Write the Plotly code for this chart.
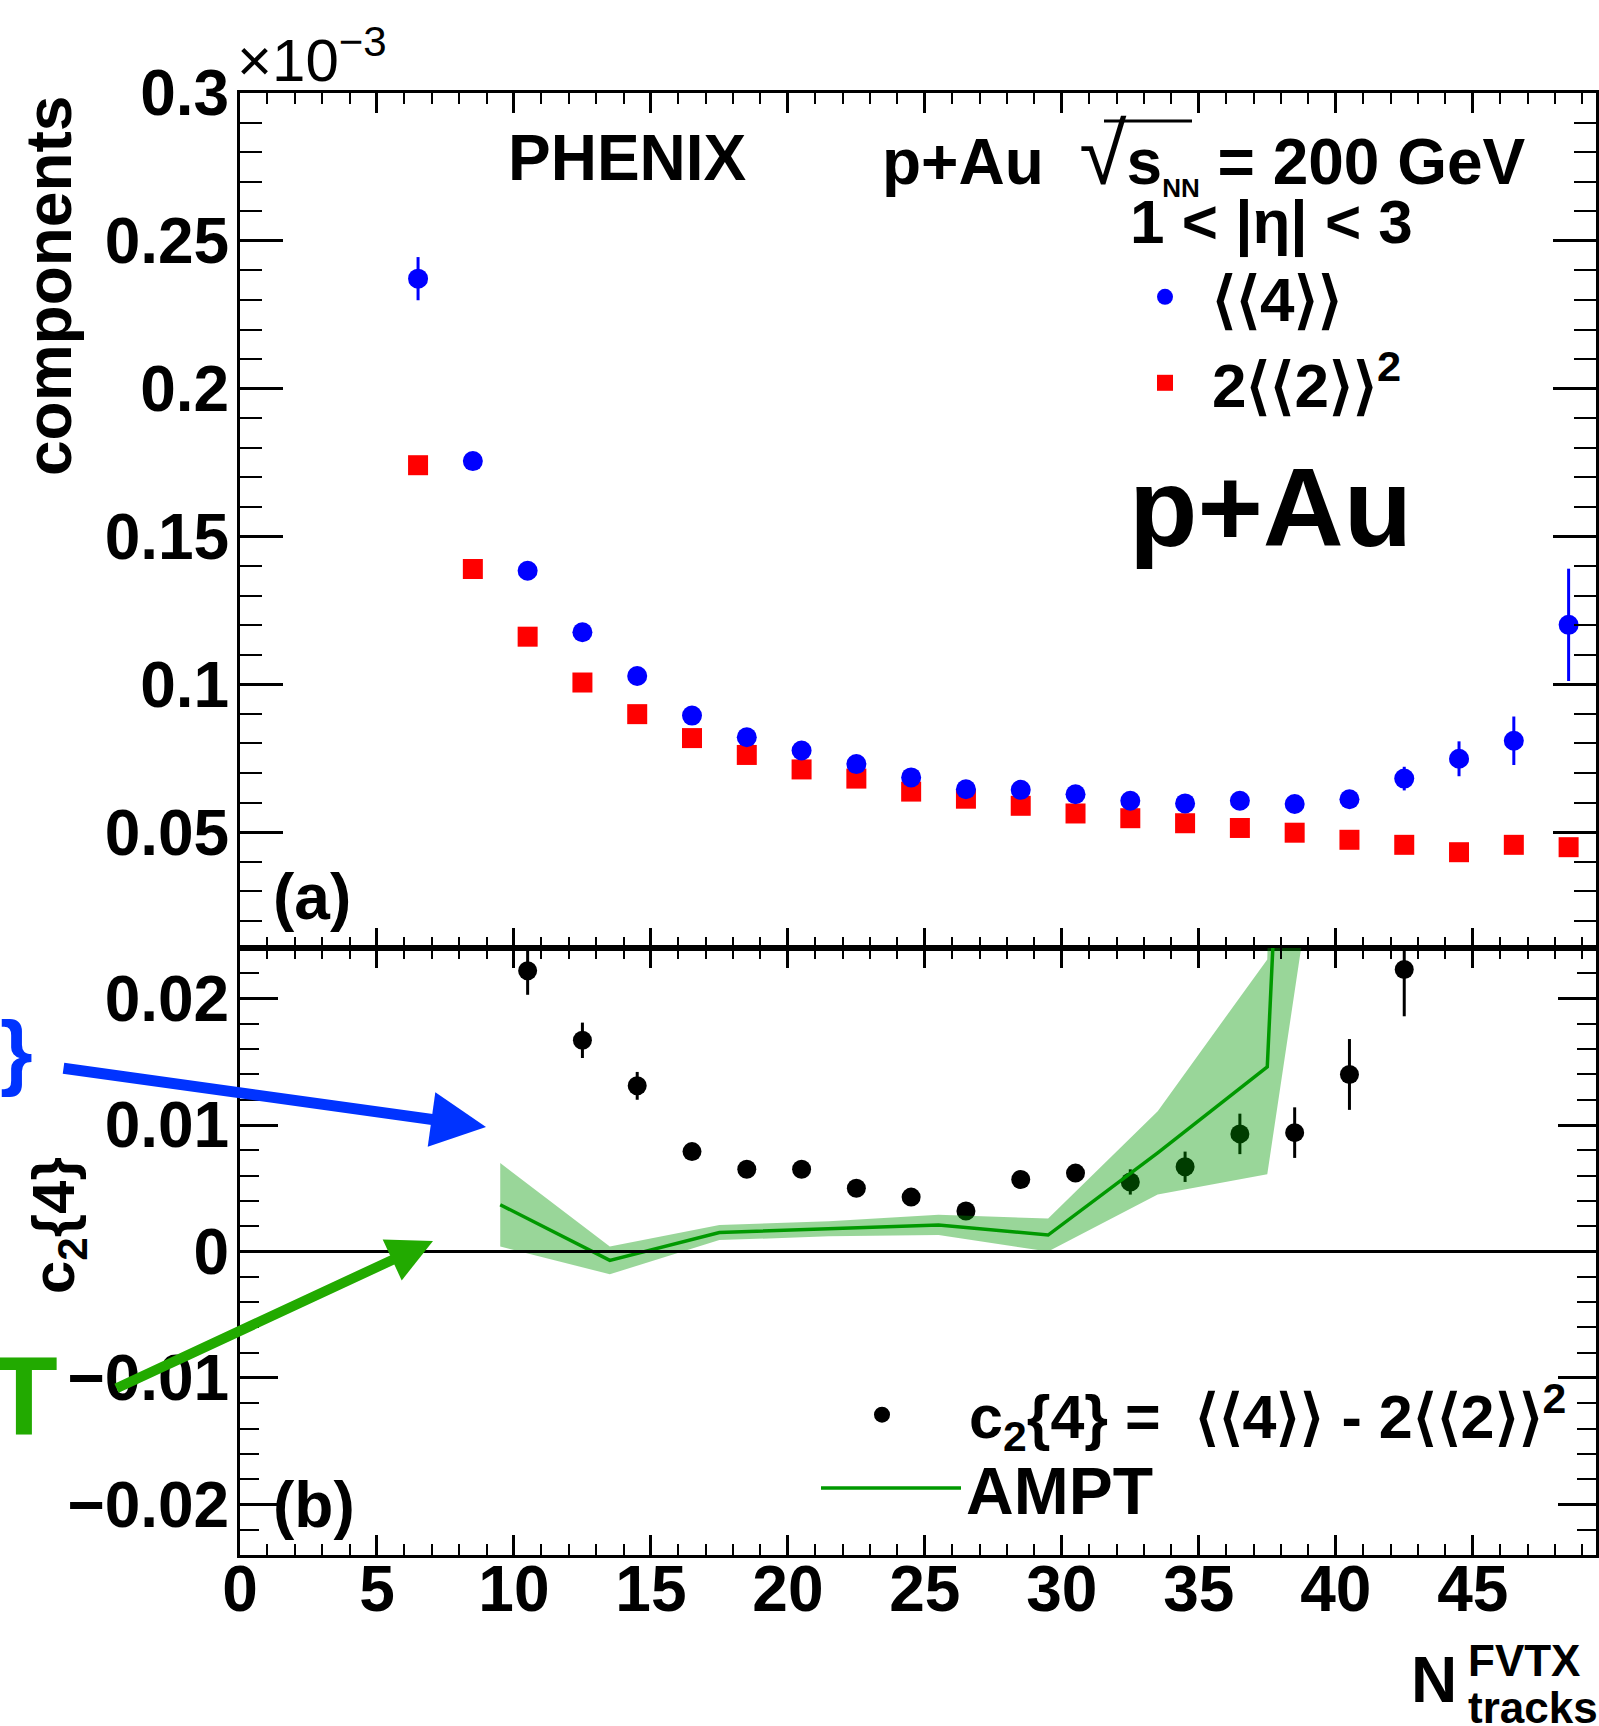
import plotly.graph_objects as go

W, H = 1599, 1726
FONT = "Liberation Sans"

# ---------------- data ----------------
x_pts = [6.5, 8.5, 10.5, 12.5, 14.5, 16.5, 18.5, 20.5, 22.5, 24.5, 26.5,
         28.5, 30.5, 32.5, 34.5, 36.5, 38.5, 40.5, 42.5, 44.5, 46.5, 48.5]
four = [0.2372, 0.1755, 0.1384, 0.1176, 0.1028, 0.0894, 0.0821, 0.0776, 0.0730,
        0.0685, 0.0645, 0.0643, 0.0628, 0.0606, 0.0597, 0.0606, 0.0595, 0.0611,
        0.0681, 0.0748, 0.0809, 0.1201]
four_err = [0.0073, 0.0020, 0.0015, 0.0013, 0.0012, 0.0012, 0.0012, 0.0012, 0.0012,
            0.0013, 0.0014, 0.0015, 0.0017, 0.0019, 0.0020, 0.0022, 0.0025, 0.0030,
            0.0040, 0.0059, 0.0082, 0.0190]
two_sq = [0.1741, 0.1390, 0.1161, 0.1006, 0.0899, 0.0818, 0.0761, 0.0712, 0.0681,
          0.0637, 0.0613, 0.0589, 0.0563, 0.0547, 0.0530, 0.0514, 0.0498, 0.0474,
          0.0457, 0.0432, 0.0457, 0.0449]

c24_x = [10.5, 12.5, 14.5, 16.5, 18.5, 20.5, 22.5, 24.5, 26.5, 28.5, 30.5,
         32.5, 34.5, 36.5, 38.5, 40.5, 42.5]
c24 = [0.0222, 0.0167, 0.0131, 0.0079, 0.0065, 0.0065, 0.0050, 0.0043, 0.0032,
       0.0057, 0.0062, 0.0055, 0.0067, 0.0093, 0.0094, 0.0140, 0.0223]
c24_err = [0.0019, 0.0014, 0.0011, 0.0006, 0.0005, 0.0005, 0.0005, 0.0005, 0.0005,
           0.0006, 0.0006, 0.0010, 0.0012, 0.0016, 0.0020, 0.0028, 0.0037]

ampt_x = [9.5, 13.5, 17.5, 21.5, 25.5, 29.5, 33.5, 37.5, 41.5]
ampt_y = [0.0037, -0.0007, 0.0015, 0.0018, 0.0021, 0.0013, 0.0078, 0.0146, 0.2000]
ampt_err = [0.0033, 0.0011, 0.0006, 0.0006, 0.0008, 0.0013, 0.0033, 0.0085, 0.1360]

x_tickvals = [0, 5, 10, 15, 20, 25, 30, 35, 40, 45]
x_ticktext = ["0", "5", "10", "15", "20", "25", "30", "35", "40", "45"]
top_tickvals = [0.05, 0.1, 0.15, 0.2, 0.25, 0.3]
top_ticktext = ["0.05", "0.1", "0.15", "0.2", "0.25", "0.3"]
bot_tickvals = [-0.02, -0.01, 0, 0.01, 0.02]
bot_ticktext = ["\u22120.02", "\u22120.01", "0", "0.01", "0.02"]

# ---------------- helpers ----------------
def px(x):
    return x / W

def py(y):
    return 1 - y / H

BLUE = "#0000ff"
RED = "#ff0000"
GREEN = "#009900"
BAND = "rgba(0,153,0,0.40)"
ARROW_BLUE = "#0033ff"
ARROW_GREEN = "#22aa00"

fig = go.Figure()

# top panel (red first so blue circles sit on top)
fig.add_trace(go.Scatter(
    x=x_pts, y=two_sq, mode="markers", name="2\u27e8\u27e82\u27e9\u27e9<sup>2</sup>",
    marker=dict(symbol="square", size=20, color=RED),
    xaxis="x", yaxis="y", legend="legend2"))
fig.add_trace(go.Scatter(
    x=x_pts, y=four, mode="markers", name="\u27e8\u27e84\u27e9\u27e9",
    marker=dict(symbol="circle", size=20, color=BLUE),
    error_y=dict(type="data", array=four_err, thickness=3, width=0, color=BLUE),
    xaxis="x", yaxis="y", legend="legend"))

# bottom panel
fig.add_trace(go.Scatter(
    x=c24_x, y=c24, mode="markers",
    name="c<sub>2</sub>{4} =  \u27e8\u27e84\u27e9\u27e9 - 2\u27e8\u27e82\u27e9\u27e9<sup>2</sup>",
    marker=dict(symbol="circle", size=19, color="black"),
    error_y=dict(type="data", array=c24_err, thickness=3, width=0, color="black"),
    xaxis="x2", yaxis="y2", legend="legend3"))

upper = [v + e for v, e in zip(ampt_y, ampt_err)]
lower = [v - e for v, e in zip(ampt_y, ampt_err)]
fig.add_trace(go.Scatter(x=ampt_x, y=upper, mode="lines", line=dict(width=0, color=BAND),
                         showlegend=False, hoverinfo="skip", xaxis="x2", yaxis="y2"))
fig.add_trace(go.Scatter(x=ampt_x, y=lower, mode="lines", line=dict(width=0, color=BAND),
                         fill="tonexty", fillcolor=BAND,
                         showlegend=False, hoverinfo="skip", xaxis="x2", yaxis="y2"))
fig.add_trace(go.Scatter(x=ampt_x, y=ampt_y, mode="lines", name="AMPT",
                         line=dict(width=3.5, color=GREEN),
                         xaxis="x2", yaxis="y2", legend="legend4"))

# ---------------- axes ----------------
xdom = [px(240), px(1596)]
common_x = dict(range=[0, 49.5], domain=xdom, showgrid=False, zeroline=False,
                automargin=False,
                showline=True, linewidth=3, linecolor="black", mirror="ticks",
                ticks="inside", ticklen=20, tickwidth=2.5, tickcolor="black",
                tickvals=x_tickvals, ticktext=x_ticktext,
                minor=dict(ticks="inside", ticklen=11, tickwidth=2, tickcolor="black",
                           dtick=1, tick0=0, showgrid=False))
fig.update_layout(
    xaxis=dict(**common_x, anchor="y", showticklabels=False, matches="x2"),
    xaxis2=dict(**common_x, anchor="y2", showticklabels=True, ticklabelstandoff=-24,
                tickfont=dict(family=FONT, size=64, color="black", weight="bold")),
    yaxis=dict(domain=[py(948), py(93)], range=[0.0108, 0.3], anchor="x",
               automargin=False, ticklabelstandoff=-5,
               showgrid=False, zeroline=False, showline=True, linewidth=3,
               linecolor="black", mirror="ticks", ticks="inside", ticklen=43,
               tickwidth=2.5, tickcolor="black", tickvals=top_tickvals,
               ticktext=top_ticktext,
               tickfont=dict(family=FONT, size=64, color="black", weight="bold"),
               minor=dict(ticks="inside", ticklen=22, tickwidth=2, tickcolor="black",
                          dtick=0.01, tick0=0, showgrid=False)),
    yaxis2=dict(domain=[py(1555), py(948)], range=[-0.024, 0.024], anchor="x2",
                automargin=False, ticklabelstandoff=-5,
                showgrid=False, zeroline=False, showline=True, linewidth=3,
                linecolor="black", mirror="ticks", ticks="inside", ticklen=38,
                tickwidth=2.5, tickcolor="black", tickvals=bot_tickvals,
                ticktext=bot_ticktext,
                tickfont=dict(family=FONT, size=64, color="black", weight="bold"),
                minor=dict(ticks="inside", ticklen=19, tickwidth=2, tickcolor="black",
                           dtick=0.002, tick0=0, showgrid=False)),
)

# zero line in lower panel
fig.add_shape(type="line", xref="x2 domain", yref="y2", x0=0, x1=1, y0=0, y1=0,
              line=dict(color="black", width=3), layer="above")

# ---------------- legends (one entry each for exact placement) ----------------
def leg(xleft, ycenter, width, size=62):
    return dict(x=px(xleft), y=py(ycenter), xanchor="left", yanchor="middle",
                bgcolor="rgba(0,0,0,0)", itemwidth=width,
                font=dict(family=FONT, size=size, color="black", weight="bold"))

fig.update_layout(
    legend=leg(1118, 297, 84),
    legend2=leg(1118, 383, 84),
    legend3=leg(795, 1415, 164, size=61),
    legend4=leg(816, 1488, 140, size=66),
)

# ---------------- annotations ----------------
def txt(text, x, y, size, xanchor="left", yanchor="middle", color="black",
        weight="bold", angle=0):
    fig.add_annotation(text=text, x=px(x), y=py(y), xref="paper", yref="paper",
                       xanchor=xanchor, yanchor=yanchor, showarrow=False,
                       textangle=angle,
                       font=dict(family=FONT, size=size, color=color, weight=weight))

txt("\u00d710<sup>\u22123</sup>", 235, 96, 60, yanchor="bottom", weight="normal")
txt("components", 49, 94, 64, xanchor="center", yanchor="top", angle=-90)
txt("c<sub>2</sub>{4}", 58, 1226, 60, xanchor="center", yanchor="middle", angle=-90)
txt("PHENIX", 627, 158, 64, xanchor="center")
txt("p+Au  <span style=\"font-size:86px;font-weight:normal\">\u221a</span><span>s</span>"
    "<sub><span style=\"font-size:26px\">NN</span></sub> = 200 GeV",
    880, 155, 64)
txt("1 < |\u03b7| < 3", 1128, 222, 62)
txt("p+Au", 1127, 508, 112)
txt("(a)", 271, 897, 64)
txt("(b)", 271, 1505, 64)
txt("N", 1409, 1680, 64)
txt("FVTX", 1466, 1660, 44)
txt("tracks", 1466, 1707, 44)
txt("}", -2, 1051, 84, color=ARROW_BLUE)
txt("T", 60, 1396, 111, xanchor="right", color=ARROW_GREEN)

# sqrt overline
fig.add_shape(type="line", xref="paper", yref="paper", x0=px(1104), x1=px(1192),
              y0=py(121), y1=py(121), line=dict(color="black", width=3))

# arrows
fig.add_annotation(x=px(486), y=py(1127), xref="paper", yref="paper", text="",
                   showarrow=True, arrowhead=2, arrowsize=1, arrowwidth=11,
                   arrowcolor=ARROW_BLUE, ax=62 - 486, ay=1068 - 1127, standoff=0)
fig.add_annotation(x=px(433), y=py(1241), xref="paper", yref="paper", text="",
                   showarrow=True, arrowhead=2, arrowsize=0.9, arrowwidth=10,
                   arrowcolor=ARROW_GREEN, ax=115 - 433, ay=1389 - 1241, standoff=0)

fig.update_layout(width=W, height=H, margin=dict(l=0, r=0, t=0, b=0, autoexpand=False),
                  paper_bgcolor="white", plot_bgcolor="white",
                  font=dict(family=FONT, color="black"))

fig.write_html("out.html")
